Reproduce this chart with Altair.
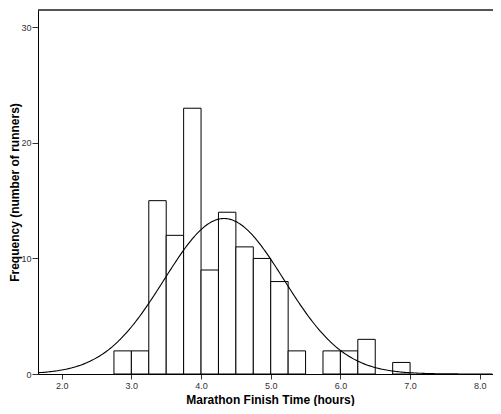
import altair as alt
import pandas as pd

# Histogram bins (hours) and counts
bin_start = [2.75, 3.00, 3.25, 3.50, 3.75, 4.00, 4.25, 4.50, 4.75, 5.00, 5.25, 5.50, 5.75, 6.00, 6.25, 6.50, 6.75]
counts    = [2,    2,    15,   12,   23,   9,    14,   11,   10,   8,    2,    0,    2,    2,    3,    0,    1]
BIN_WIDTH = 0.25

# Normal curve parameters (fit shown on chart)
N_RUNNERS = 116
MEAN = 4.33
SD = 0.86

x_ticks = [2.0, 2.5, 3.0, 3.5, 4.0, 4.5, 5.0, 5.5, 6.0, 6.5, 7.0, 7.5, 8.0]
y_ticks = [0, 10, 20, 30]
X_DOMAIN = [1.66, 8.19]
Y_DOMAIN = [0, 31.5]

FONT = "Liberation Sans"
W, H = 455, 364

hist = pd.DataFrame({
    "start": bin_start,
    "end": [b + BIN_WIDTH for b in bin_start],
    "count": counts,
})
hist = hist[hist["count"] > 0]

x_scale = alt.Scale(domain=X_DOMAIN, nice=False, zero=False)
y_scale = alt.Scale(domain=Y_DOMAIN, nice=False, zero=False)

x_axis = alt.Axis(
    values=x_ticks, format=".1f", title="Marathon Finish Time (hours)",
    grid=False, tickSize=5, labelPadding=2, labelFontSize=9, labelColor="#333",
    labelFont=FONT, titleFont=FONT, titleFontSize=12, titleFontWeight="bold",
    titleColor="black", domainColor="black", tickColor="#333",
    titleX=232, titleY=29, titleBaseline="alphabetic", titleAlign="center",
)
y_axis = alt.Axis(
    values=y_ticks, title="Frequency (number of runners)",
    grid=False, tickSize=6, labelPadding=1, labelFontSize=9, labelColor="#333",
    labelFont=FONT, titleFont=FONT, titleFontSize=12, titleFontWeight="bold",
    titleColor="black", domainColor="black", tickColor="#333",
    titleX=-24, titleY=182, titleAlign="center", titleBaseline="middle", titleAngle=270,
)

bars = alt.Chart(hist).mark_rect(fill="white", stroke="black", strokeWidth=1).encode(
    x=alt.X("start:Q", scale=x_scale, axis=x_axis),
    x2="end:Q",
    y=alt.Y("count:Q", scale=y_scale, axis=y_axis),
    y2=alt.datum(0),
)

curve = alt.Chart(alt.sequence(X_DOMAIN[0], X_DOMAIN[1], 0.02, as_="x")).transform_calculate(
    y=f"{N_RUNNERS} * {BIN_WIDTH} * densityNormal(datum.x, {MEAN}, {SD})"
).mark_line(color="black", strokeWidth=1.1, clip=True).encode(
    x=alt.X("x:Q", scale=x_scale),
    y=alt.Y("y:Q", scale=y_scale),
)

top_border = alt.Chart(pd.DataFrame({"a": [0]})).mark_rule(color="#222", strokeWidth=1.5).encode(
    x=alt.value(0), x2=alt.value(W), y=alt.value(0)
)

chart = alt.layer(bars, curve, top_border).properties(
    width=W, height=H,
    autosize=alt.AutoSizeParams(type="none"),
    padding={"left": 30, "top": 2, "right": 0, "bottom": 32},
).configure_view(stroke=None).configure(background="white")

chart.save("out.html", embed_options={"renderer": "svg", "actions": False})
